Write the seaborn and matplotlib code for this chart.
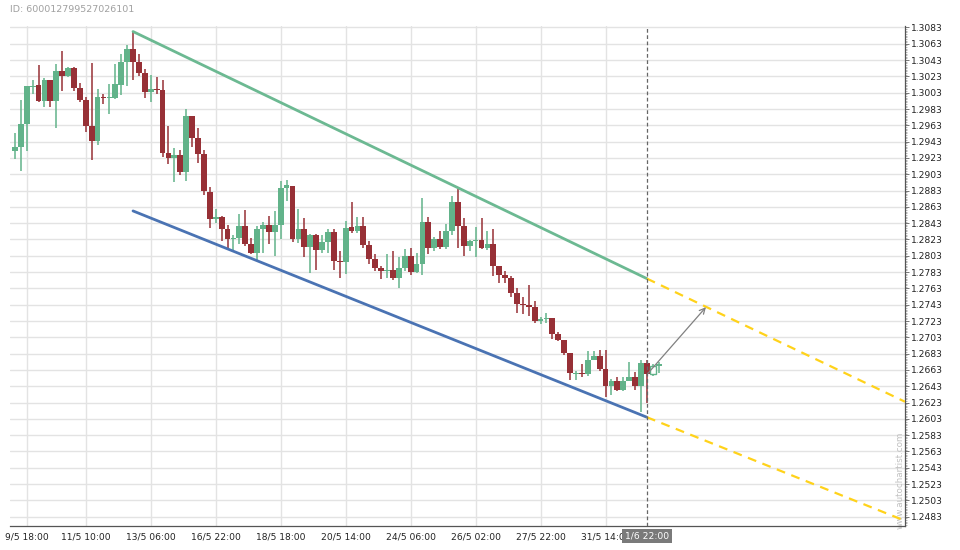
import numpy as np
import matplotlib
matplotlib.use("Agg")
import matplotlib.pyplot as plt
import seaborn as sns
import pandas as pd

# ---------------- data (4h candles) ----------------
opens = [1.2931,1.2937,1.2964,1.3010,1.3012,1.2993,1.3018,1.2993,1.3029,1.3024,
         1.3033,1.3009,1.2994,1.2962,1.2944,1.2998,1.2996,1.2997,1.3013,1.3041,
         1.3057,1.3041,1.3027,1.3004,1.3007,1.3006,1.2929,1.2923,1.2927,1.2906,
         1.2974,1.2948,1.2928,1.2881,1.2848,1.2850,1.2836,1.2824,1.2825,1.2839,
         1.2817,1.2807,1.2836,1.2841,1.2832,1.2841,1.2886,1.2889,1.2823,1.2836,
         1.2814,1.2829,1.2810,1.2820,1.2832,1.2797,1.2795,1.2838,1.2833,1.2840,
         1.2816,1.2799,1.2788,1.2784,1.2786,1.2776,1.2788,1.2803,1.2783,1.2793,
         1.2844,1.2812,1.2823,1.2814,1.2833,1.2869,1.2839,1.2815,1.2821,1.2822,
         1.2812,1.2818,1.2791,1.2779,1.2776,1.2757,1.2744,1.2743,1.2740,1.2723,
         1.2726,1.2727,1.2707,1.2700,1.2684,1.2658,1.2659,1.2658,1.2675,1.2680,
         1.2664,1.2643,1.2650,1.2638,1.2650,1.2654,1.2643,1.2672,1.2658,1.2668]
highs = [1.2954,1.2994,1.3011,1.3019,1.3037,1.3021,1.3019,1.3038,1.3054,1.3035,
         1.3035,1.3015,1.2998,1.3039,1.3007,1.3002,1.3014,1.3038,1.3050,1.3061,
         1.3078,1.3050,1.3032,1.3025,1.3022,1.3019,1.2962,1.2935,1.2933,1.2983,
         1.2974,1.2960,1.2933,1.2887,1.2860,1.2852,1.2841,1.2828,1.2854,1.2859,
         1.2825,1.2840,1.2845,1.2852,1.2858,1.2895,1.2896,1.2889,1.2860,1.2849,
         1.2830,1.2830,1.2828,1.2836,1.2836,1.2809,1.2846,1.2869,1.2850,1.2850,
         1.2821,1.2805,1.2791,1.2805,1.2809,1.2801,1.2811,1.2813,1.2807,1.2874,
         1.2850,1.2826,1.2834,1.2842,1.2876,1.2885,1.2849,1.2822,1.2838,1.2849,
         1.2833,1.2836,1.2791,1.2784,1.2778,1.2763,1.2753,1.2767,1.2748,1.2728,
         1.2733,1.2727,1.2709,1.2700,1.2684,1.2662,1.2670,1.2686,1.2686,1.2688,
         1.2688,1.2652,1.2654,1.2654,1.2673,1.2660,1.2675,1.2675,1.2670,1.2673]
lows = [1.2922,1.2907,1.2932,1.3002,1.2991,1.2986,1.2985,1.2960,1.3005,1.3022,
        1.3005,1.2992,1.2955,1.2921,1.2939,1.2989,1.2977,1.2995,1.3000,1.3011,
        1.3018,1.3023,1.2996,1.2991,1.3002,1.2924,1.2915,1.2893,1.2902,1.2895,
        1.2936,1.2917,1.2878,1.2837,1.2843,1.2821,1.2813,1.2808,1.2817,1.2815,
        1.2805,1.2796,1.2807,1.2817,1.2803,1.2823,1.2870,1.2820,1.2819,1.2802,
        1.2782,1.2785,1.2807,1.2807,1.2786,1.2776,1.2781,1.2831,1.2831,1.2812,
        1.2793,1.2784,1.2774,1.2776,1.2773,1.2764,1.2784,1.2780,1.2782,1.2780,
        1.2805,1.2809,1.2811,1.2811,1.2829,1.2812,1.2803,1.2809,1.2802,1.2811,
        1.2810,1.2778,1.2770,1.2770,1.2753,1.2733,1.2731,1.2729,1.2720,1.2719,
        1.2720,1.2701,1.2699,1.2681,1.2651,1.2651,1.2654,1.2655,1.2675,1.2662,
        1.2630,1.2632,1.2637,1.2637,1.2650,1.2638,1.2611,1.2623,1.2656,1.2659]
closes = [1.2937,1.2964,1.3011,1.3011,1.2993,1.3018,1.2993,1.3029,1.3024,1.3033,
          1.3009,1.2994,1.2962,1.2944,1.2998,1.2996,1.2998,1.3014,1.3041,1.3057,
          1.3041,1.3027,1.3004,1.3007,1.3006,1.2929,1.2923,1.2927,1.2906,1.2974,
          1.2948,1.2928,1.2882,1.2848,1.2850,1.2836,1.2824,1.2825,1.2839,1.2817,
          1.2807,1.2836,1.2841,1.2832,1.2841,1.2886,1.2890,1.2823,1.2836,1.2814,
          1.2829,1.2810,1.2820,1.2832,1.2797,1.2795,1.2837,1.2833,1.2840,1.2816,
          1.2799,1.2788,1.2784,1.2786,1.2776,1.2788,1.2803,1.2783,1.2793,1.2844,
          1.2813,1.2823,1.2814,1.2833,1.2869,1.2839,1.2815,1.2821,1.2822,1.2812,
          1.2818,1.2791,1.2779,1.2776,1.2757,1.2744,1.2743,1.2740,1.2723,1.2726,
          1.2727,1.2707,1.2700,1.2684,1.2659,1.2659,1.2658,1.2675,1.2680,1.2664,
          1.2643,1.2650,1.2638,1.2650,1.2654,1.2643,1.2672,1.2658,1.2668,1.2670]

tick_idx = [2, 12, 23, 34, 45, 56, 67, 78, 89, 100]
tick_labels = ["9/5 18:00", "11/5 10:00", "13/5 06:00", "16/5 22:00", "18/5 18:00",
               "20/5 14:00", "24/5 06:00", "26/5 02:00", "27/5 22:00", "31/5 14:00"]
current_idx = 107
current_label = "1/6 22:00"
hollow_idx = [108]

# trend channel (index, price)
upper_x = [20, 107, 150.7]
upper_y = [1.3078, 1.2775, 1.2624]
lower_x = [20, 107, 150.7]
lower_y = [1.2858, 1.2605, 1.2478]
arrow_start = (107.2, 1.2659)
arrow_end = (117.0, 1.2740)

y_ticks = np.round(np.arange(1.2483, 1.30831, 0.002), 4)

df = pd.DataFrame({"idx": np.arange(len(opens)), "open": opens, "high": highs,
                   "low": lows, "close": closes})

# ---------------- style ----------------
sns.set_style("white")
plt.rcParams["font.family"] = ["DejaVu Sans"]

GREEN = "#62b38a"
RED = "#973036"
fig = plt.figure(figsize=(9.6, 5.5), dpi=100)
ax = fig.add_axes([10/960, 1-526/550, 895/960, 500/550])

ax.set_xlim(-0.83, 150.7)
ax.set_ylim(1.24716, 1.30848)

# grid
for t in y_ticks:
    ax.axhline(t, color="#e3e3e3", lw=1.0, zorder=0)
for t in tick_idx:
    ax.axvline(t, color="#e3e3e3", lw=1.0, zorder=0)

# candles
up = df["close"] >= df["open"]
colors = np.where(up, GREEN, RED)
ax.vlines(df["idx"], df["low"], df["high"], colors=colors, lw=1.1, zorder=2)
body_bottom = np.minimum(df["open"], df["close"])
body_h = np.maximum(np.abs(df["close"] - df["open"]), 0.00004)
for i in range(len(df)):
    if i in hollow_idx:
        ax.bar(df["idx"][i], body_h[i], bottom=body_bottom[i], width=0.95,
               facecolor="white", edgecolor=colors[i], lw=1.0, zorder=3)
    else:
        ax.bar(df["idx"][i], body_h[i], bottom=body_bottom[i], width=0.98,
               color=colors[i], lw=0, zorder=3)

# channel lines
sns.lineplot(x=upper_x[:2], y=upper_y[:2], ax=ax, color="#6cb992", lw=2.0, zorder=4)
sns.lineplot(x=lower_x[:2], y=lower_y[:2], ax=ax, color="#4a73b3", lw=2.0, zorder=4)
ax.plot(upper_x[1:], upper_y[1:], color="#ffd21a", lw=1.6, ls=(0, (4, 3)), zorder=4)
ax.plot(lower_x[1:], lower_y[1:], color="#ffd21a", lw=1.6, ls=(0, (4, 3)), zorder=4)

# current bar marker
ax.axvline(current_idx, color="#666666", lw=0.9, ls=(0, (3, 2)), zorder=5)
ax.annotate("", xy=arrow_end, xytext=arrow_start,
            arrowprops=dict(arrowstyle="->", color="#808080", lw=0.9,
                            shrinkA=0, shrinkB=0), zorder=6)

# axes
for s in ["left", "top"]:
    ax.spines[s].set_visible(False)
for s in ["right", "bottom"]:
    ax.spines[s].set_color("#555555")
    ax.spines[s].set_linewidth(0.9)

ax.yaxis.tick_right()
ax.set_yticks(y_ticks)
ax.set_yticklabels([f"{v:.4f}" for v in y_ticks])
ax.set_yticks(np.arange(1.2473, 1.3085, 0.0002), minor=True)
ax.tick_params(axis="y", which="major", length=3, width=0.7, color="#777777",
               labelsize=6.6, labelcolor="#222222", pad=1.5)
ax.tick_params(axis="y", which="minor", length=1.5, width=0.5, color="#999999")

ax.set_xticks(tick_idx)
ax.set_xticklabels(tick_labels)
ax.set_xticks(np.arange(0, 151, 2), minor=True)
ax.tick_params(axis="x", which="major", length=3, width=0.7, color="#777777",
               labelsize=6.6, labelcolor="#222222", pad=2)
ax.tick_params(axis="x", which="minor", length=2, width=0.5, color="#aaaaaa")
ax.set_xlabel("")
ax.set_ylabel("")

ax.text(current_idx, 1.24716 - 0.0007, current_label, ha="center", va="top",
        fontsize=6.6, color="white", zorder=10,
        bbox=dict(boxstyle="square,pad=0.3", facecolor="#7a7a7a", edgecolor="none"))

fig.text(10/960, 1-10/550, "ID: 600012799527026101", ha="left", va="center",
         fontsize=6.8, color="#a0a0a0")
ax.text(149.9, 1.2528, "www.autochartist.com", rotation=90, ha="center", va="center",
        fontsize=6.3, color="#c0c0c0", zorder=1)

fig.savefig("out.png", dpi=100)
